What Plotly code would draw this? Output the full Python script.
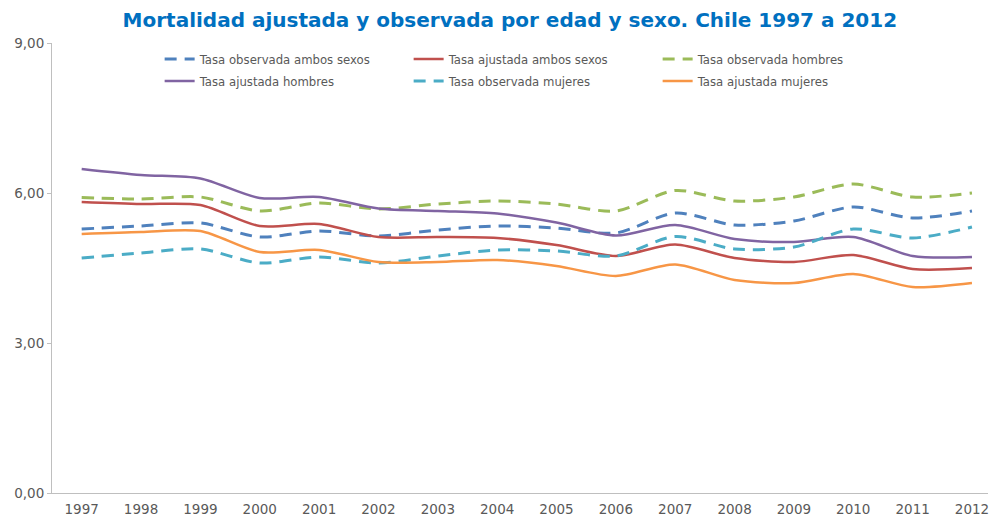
import plotly.graph_objects as go

years = [str(y) for y in range(1997, 2013)]

obs_ambos = [5.28, 5.34, 5.40, 5.12, 5.24, 5.14, 5.26, 5.34, 5.30, 5.20, 5.60, 5.36, 5.44, 5.72, 5.50, 5.64]
aj_ambos = [5.82, 5.78, 5.76, 5.34, 5.38, 5.12, 5.12, 5.10, 4.96, 4.74, 4.97, 4.70, 4.62, 4.76, 4.48, 4.50]
obs_hombres = [5.91, 5.88, 5.92, 5.64, 5.80, 5.68, 5.78, 5.84, 5.78, 5.64, 6.05, 5.84, 5.92, 6.18, 5.92, 6.00]
aj_hombres = [6.48, 6.36, 6.29, 5.90, 5.92, 5.69, 5.64, 5.59, 5.41, 5.15, 5.36, 5.08, 5.02, 5.12, 4.74, 4.72]
obs_mujeres = [4.70, 4.80, 4.88, 4.60, 4.72, 4.60, 4.74, 4.86, 4.84, 4.74, 5.13, 4.88, 4.92, 5.28, 5.10, 5.32]
aj_mujeres = [5.18, 5.22, 5.24, 4.82, 4.86, 4.62, 4.62, 4.66, 4.54, 4.34, 4.57, 4.26, 4.20, 4.38, 4.12, 4.20]

names = ["Tasa observada ambos sexos", "Tasa ajustada ambos sexos", "Tasa observada hombres",
         "Tasa ajustada hombres", "Tasa observada mujeres", "Tasa ajustada mujeres"]
series = [obs_ambos, aj_ambos, obs_hombres, aj_hombres, obs_mujeres, aj_mujeres]
colors = ["#4F81BD", "#C0504D", "#9BBB59", "#8064A2", "#4BACC6", "#F79646"]
dashed = [True, False, True, False, True, False]
legend_rows = ["legend", "legend", "legend", "legend2", "legend2", "legend2"]

fig = go.Figure()
for n, s, c, d, lg in zip(names, series, colors, dashed, legend_rows):
    fig.add_trace(go.Scatter(
        x=years, y=s, name=n, mode="lines", legend=lg,
        line=dict(color=c, width=3 if d else 2.5, shape="spline", smoothing=0.8,
                  dash="12px,8px" if d else "solid"),
    ))

font_family = "Verdana, DejaVu Sans, sans-serif"
leg_common = dict(orientation="h", xanchor="left", yanchor="middle",
                  entrywidth=204, entrywidthmode="pixels",
                  font=dict(family=font_family, size=11.7, color="#595959"),
                  bgcolor="rgba(0,0,0,0)")
fig.update_layout(
    width=990, height=516,
    margin=dict(l=52, r=2, t=43, b=23, autoexpand=False),
    paper_bgcolor="white", plot_bgcolor="white",
    separators=",.",
    font=dict(family=font_family, size=13, color="#595959"),
    title=dict(text="<b>Mortalidad ajustada y observada por edad y sexo. Chile 1997 a 2012</b>",
               x=0.515, xanchor="center", y=0.961, yanchor="middle",
               font=dict(family=font_family, size=20, color="#0070C0")),
    legend=dict(x=0.115, y=0.9644, **leg_common),
    legend2=dict(x=0.115, y=0.9156, **leg_common),
    showlegend=True,
)
fig.update_xaxes(type="category", range=[-0.5, 15.27], showline=True, linecolor="#BFBFBF",
                 linewidth=1, showgrid=False, ticks="", tickfont=dict(size=13.5, color="#595959"),
                 zeroline=False, ticklabelstandoff=4, automargin=False)
fig.update_yaxes(range=[0, 9], dtick=3, tickformat=".2f", showline=True, linecolor="#BFBFBF",
                 linewidth=1, showgrid=False, ticks="outside", ticklen=4, tickcolor="#BFBFBF",
                 tickfont=dict(size=13.5, color="#595959"), zeroline=False, automargin=False)

fig.write_html("out.html", config={"displayModeBar": False},
               post_script="document.body.style.margin='0px';document.body.style.overflow='hidden';")
